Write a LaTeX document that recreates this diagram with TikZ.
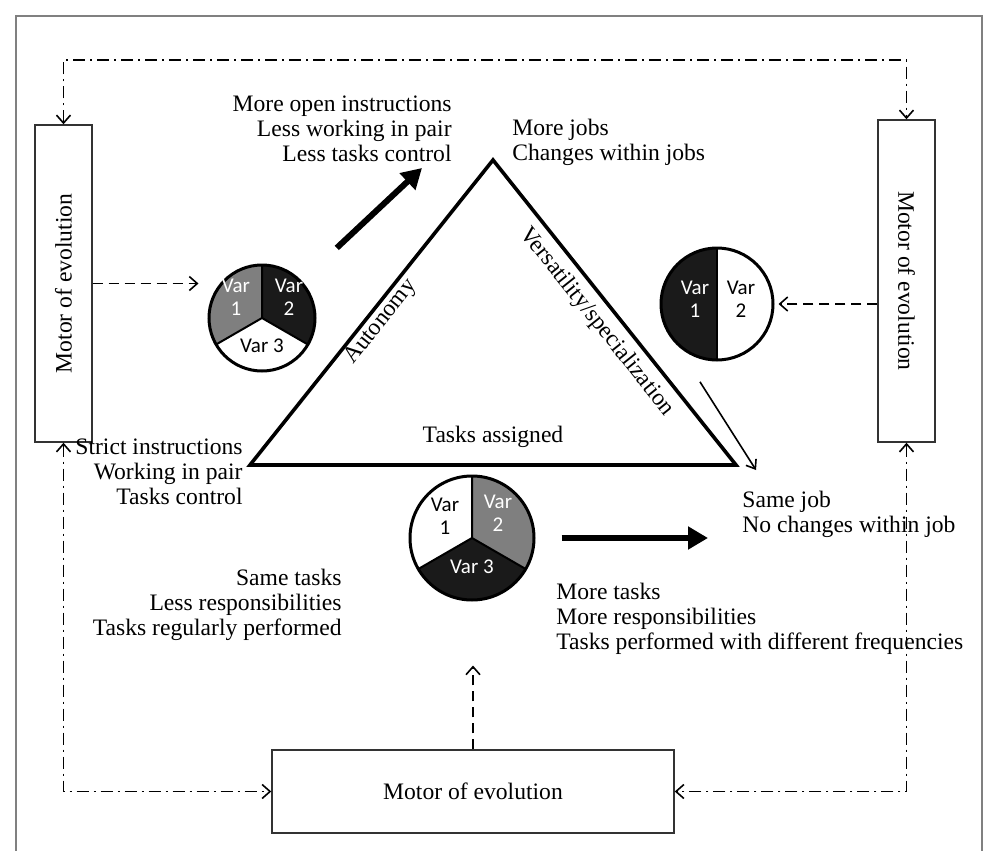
\documentclass[tikz,border=0pt]{standalone}
\usepackage{fontspec}
\usepackage{graphicx}
\setmainfont{Liberation Serif}
\newfontfamily\varfont{Carlito}
\usetikzlibrary{arrows.meta,positioning}
\definecolor{pgray}{HTML}{7F7F7F}
\definecolor{pblack}{HTML}{1A1A1A}
\tikzset{%
  motor/.style = {rectangle,draw=black!80,line width=.7pt,inner sep=0pt,
        font=\fontsize{11.8}{12.5}\selectfont},
  pie/.style = {circle,draw,line width=1.5pt,inner sep=0pt},
  loopline/.style = {{Straight Barb[length=4pt,width=7pt]}-{Straight Barb[length=4pt,width=7pt]},
        line width=.8pt,dash pattern=on 6pt off 2.5pt on 1pt off 2.5pt},
  feed/.style = {-{Straight Barb[length=4pt,width=7pt]},line width=.8pt,
        dash pattern=on 5pt off 3pt},
  big/.style = {-{Triangle[length=10pt,width=11pt]},line width=3pt},
  thinarrow/.style = {-{Straight Barb[length=4pt,width=6pt]},line width=.8pt},
  txt/.style = {font=\fontsize{11.8}{12.5}\selectfont,inner sep=0pt},
  var/.style = {font=\varfont\fontsize{10.5}{11.5}\selectfont,align=center,inner sep=0pt}
}

\begin{document}
\begin{tikzpicture}[x=0.5pt,y=-0.5pt]
        \useasboundingbox (0,0) rectangle (986,851);
        % frame
        \draw[gray,line width=1pt] (16,851) -- (16,16) -- (982,16) -- (982,851);
        % motors of evolution
        \node[motor,minimum width=28.5pt,minimum height=158.5pt] (lbox) at (63.5,283.5)
            {\rotatebox{90}{Motor of evolution}};
        \node[motor,minimum width=28.5pt,minimum height=161pt] (rbox) at (906.5,281)
            {\rotatebox{-90}{Motor of evolution}};
        \node[motor,minimum width=201pt,minimum height=41.5pt] (mbox) at (473,791.5)
            {Motor of evolution};
        \coordinate (top) at (0,60);
        \draw[loopline] (lbox.north) -- (lbox.north |- top) -| (rbox.north);
        \draw[loopline] (lbox.south) |- (mbox.west);
        \draw[loopline] (rbox.south) |- (mbox.east);
        % triangle
        \coordinate (apex) at (493,160);
        \coordinate (bl) at (250,465);
        \coordinate (br) at (736,465);
        \draw[line width=1.8pt,line join=miter] (apex) -- (bl) -- (br) -- cycle;
        \node[txt,rotate=51.5] (auto) at (381,322) {Autonomy};
        \node[txt,rotate=-51.5] (versa) at (597,322) {Versatility/specialization};
        \node[txt] (tasks) at (493,437) {Tasks assigned};
        % autonomy pie
        \coordinate (ca) at (262,318);
        \fill[pgray] (ca) -- ++(90:26.5pt) arc[start angle=90,end angle=210,radius=26.5pt] -- cycle;
        \fill[pblack] (ca) -- ++(-30:26.5pt) arc[start angle=-30,end angle=90,radius=26.5pt] -- cycle;
        \draw[line width=1pt] (ca) -- ++(90:26.5pt) (ca) -- ++(210:26.5pt) (ca) -- ++(330:26.5pt);
        \node[pie,minimum size=53pt] (pA) at (ca) {};
        \node[var,white] (a1) at (236,297) {Var\\1};
        \node[var,white] (a2) at (289,297) {Var\\2};
        \node[var] (a3) at (262,346) {Var 3};
        % versatility pie
        \coordinate (cb) at (717,304);
        \fill[pblack] (cb) -- ++(90:28pt) arc[start angle=90,end angle=270,radius=28pt] -- cycle;
        \draw[line width=1pt] (cb) ++(90:28pt) -- ++(0,-56pt);
        \node[pie,minimum size=56pt] (pB) at (cb) {};
        \node[var,white] (b1) at (695,299) {Var\\1};
        \node[var] (b2) at (741,299) {Var\\2};
        % tasks pie
        \coordinate (cc) at (472,538);
        \fill[pgray] (cc) -- ++(-30:31pt) arc[start angle=-30,end angle=90,radius=31pt] -- cycle;
        \fill[pblack] (cc) -- ++(210:31pt) arc[start angle=210,end angle=330,radius=31pt] -- cycle;
        \draw[line width=1pt] (cc) -- ++(90:31pt) (cc) -- ++(210:31pt) (cc) -- ++(330:31pt);
        \node[pie,minimum size=62pt] (pC) at (cc) {};
        \node[var] (c1) at (445,516) {Var\\1};
        \node[var,white] (c2) at (498,513) {Var\\2};
        \node[var,white] (c3) at (472,567) {Var 3};
        % motor inputs
        \draw[feed,shorten >=4.5pt] (lbox.east) -- (lbox.east -| pA.west);
        \draw[feed,shorten >=2pt] (rbox.west |- pB) -- (pB);
        \draw[feed,shorten >=32pt] (mbox.north) -- (mbox.north |- pC.south);
        % evolutions
        \coordinate (autend) at (422,168);
        \draw[big,shorten <=24pt] (pA) -- (autend);
        \coordinate (sjend) at (756,470);
        \draw[thinarrow,shorten <=22pt] (pB.south west) -- (sjend);
        \coordinate (moreend) at (708,538);
        \draw[big,shorten <=13pt] (pC) -- (moreend);
        % descriptions
        \node[txt,align=right,anchor=east] (openinstr) at (452,129)
            {More open instructions\\Less working in pair\\Less tasks control};
        \node[txt,align=left,anchor=west] (morejobs) at (512,142)
            {More jobs\\Changes within jobs};
        \node[txt,align=right,anchor=east] (strict) at (243,472)
            {Strict instructions\\Working in pair\\Tasks control};
        \node[txt,align=left,anchor=west] (samejob) at (742,514)
            {Same job\\No changes within job};
        \node[txt,align=right,anchor=east] (sametasks) at (342,605)
            {Same tasks\\Less responsibilities\\Tasks regularly performed};
        \node[txt,align=left,anchor=west] (moretasks) at (556,619)
            {More tasks\\More responsibilities\\Tasks performed with different frequencies};
\end{tikzpicture}
\end{document}
